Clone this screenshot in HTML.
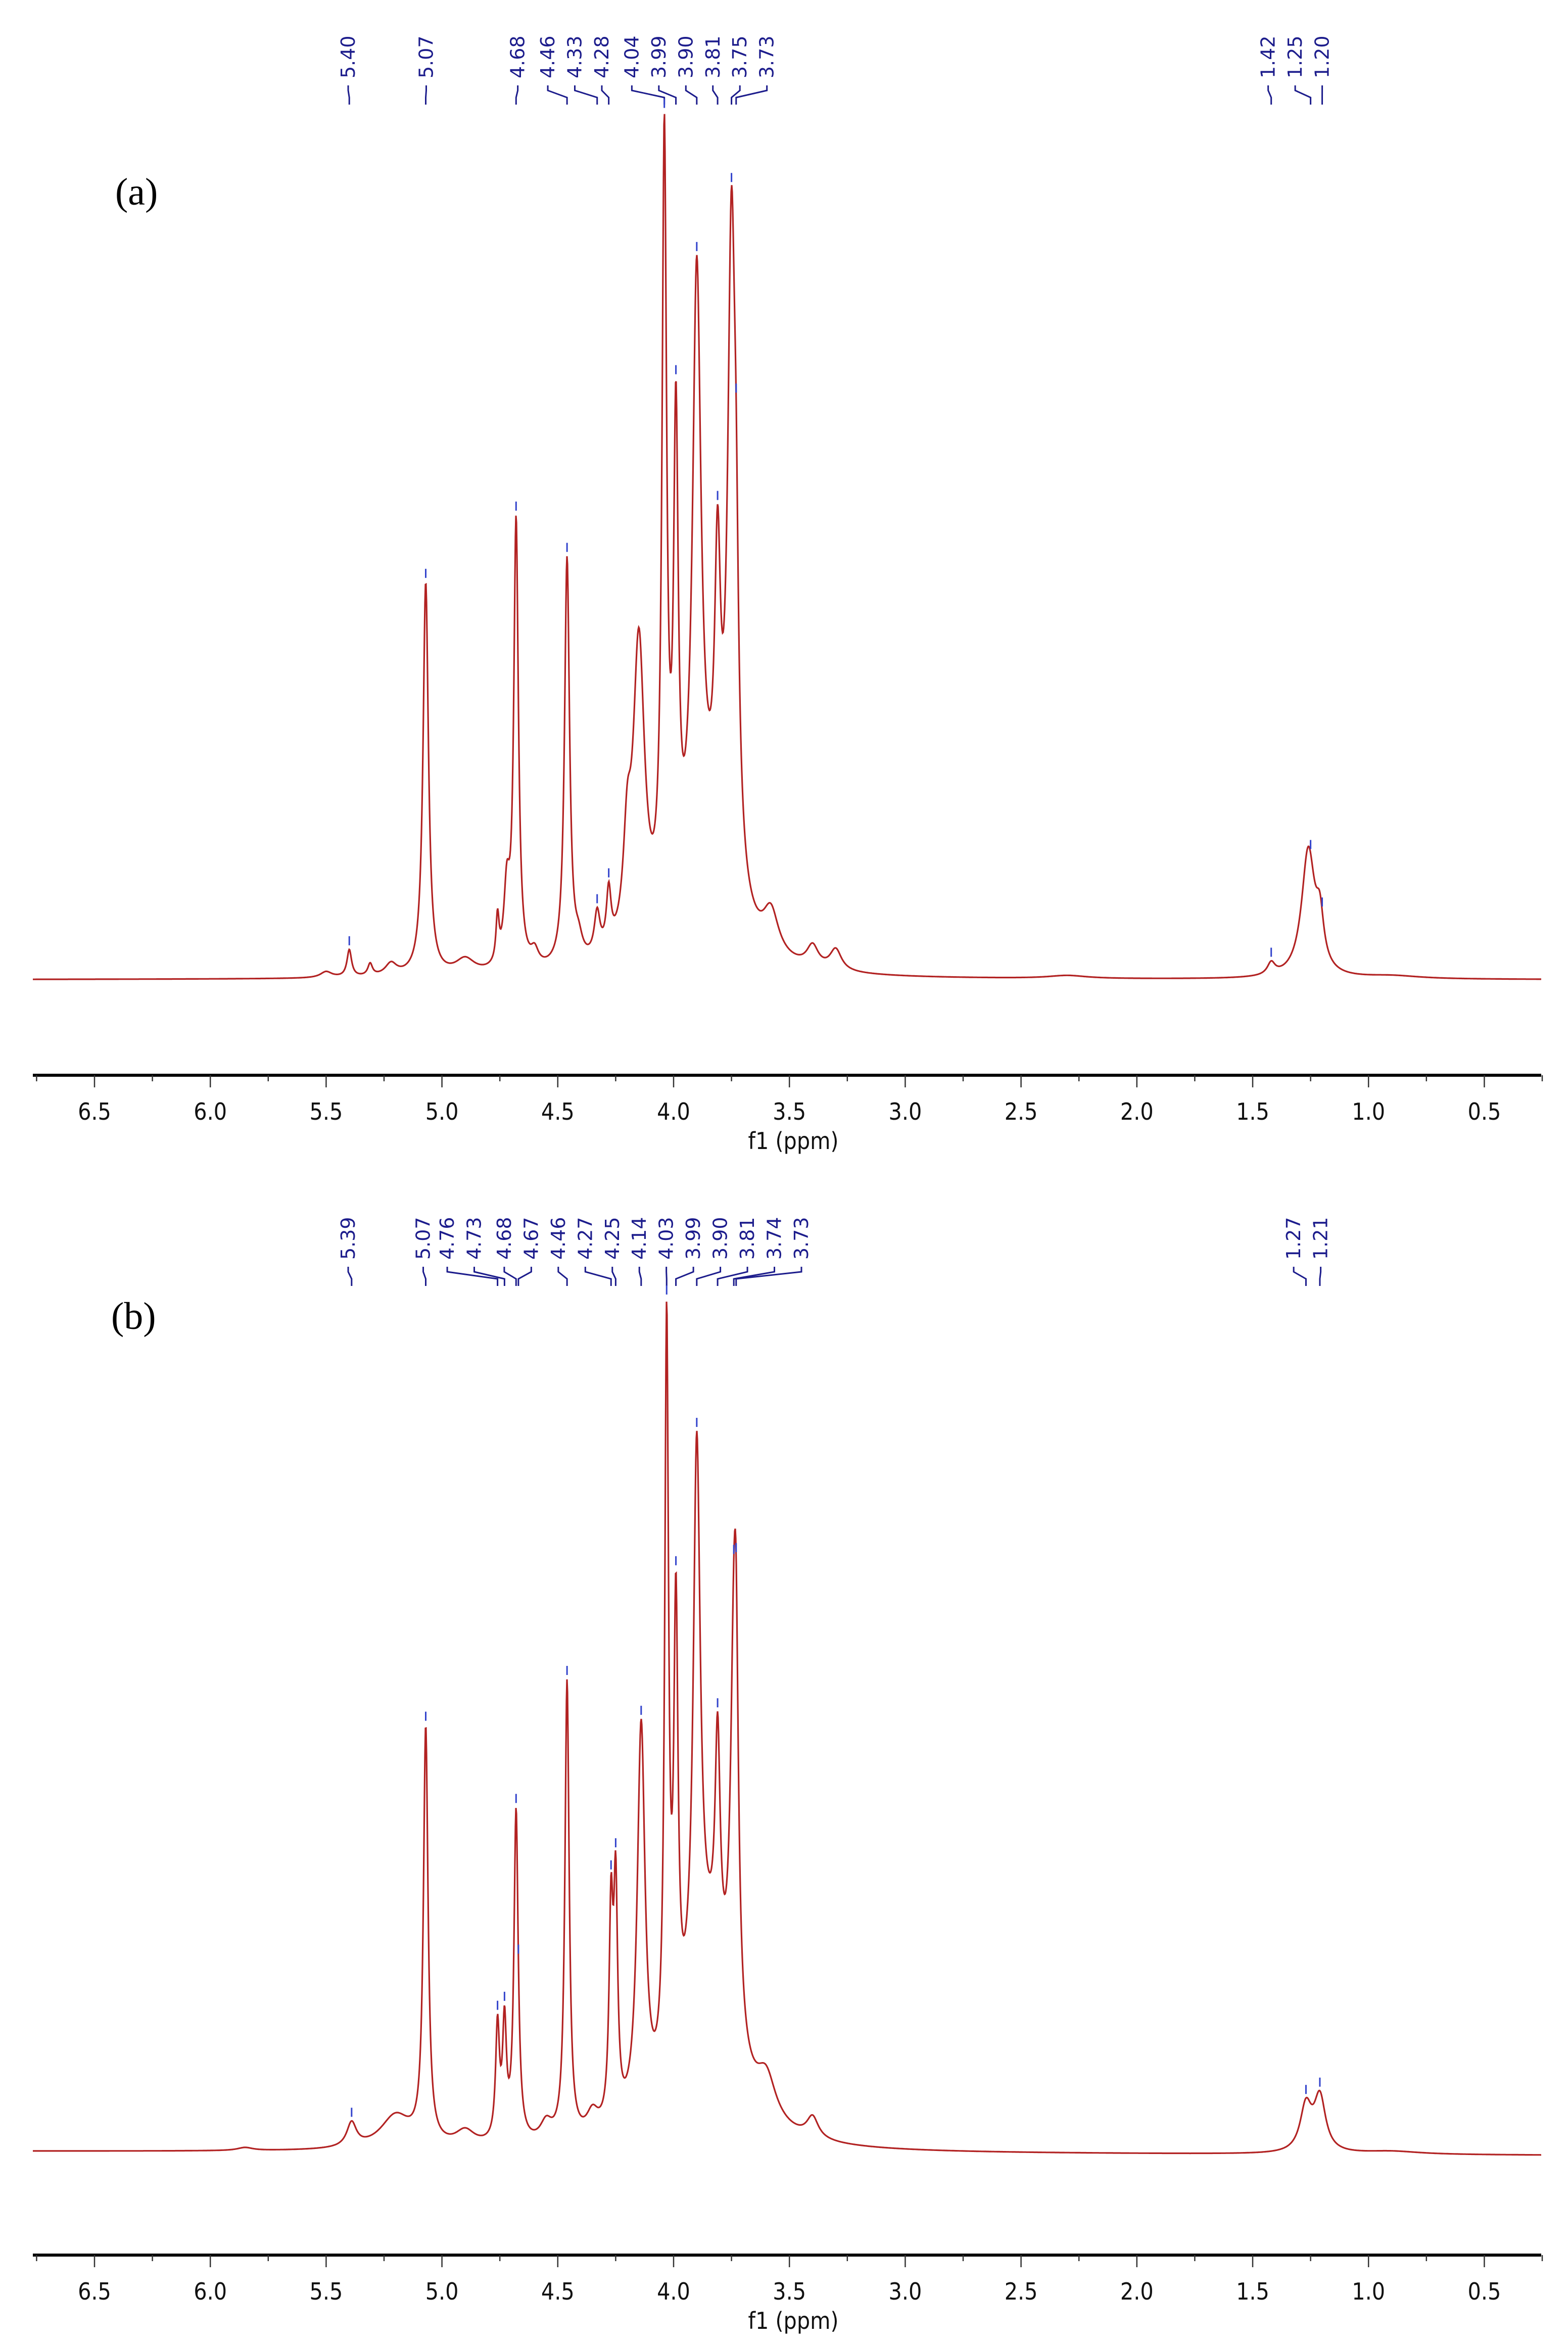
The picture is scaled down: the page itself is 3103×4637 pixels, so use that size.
<!DOCTYPE html>
<html><head><meta charset="utf-8"><style>
html,body{margin:0;padding:0;background:#fff;}
svg{display:block;}
</style></head><body>
<svg id="chart" width="3103" height="4637" viewBox="0 0 3103 4637" xmlns="http://www.w3.org/2000/svg"></svg>
<script>
// ---------- data ----------
// Panel (a): peak centres (ppm), heights (arb.), half-widths (ppm)
const peaksA_ppm = [5.50,5.40,5.31,5.22,5.07,4.90,4.76,4.72,4.68,4.60,4.46,4.41,4.33,4.28,4.20,4.15,4.04,3.99,3.90,3.85,3.81,3.75,3.73,3.58,3.40,3.30,2.30,1.42,1.26,1.21,0.90];
const peaksA_h   = [4,18,8,8,262,10,30,48,298,10,272,12,28,38,60,203,513,308,397,70,180,432,120,28,14,14,2,8,84,30,2];
const peaksA_w   = [0.03,0.012,0.012,0.03,0.014,0.05,0.008,0.015,0.012,0.02,0.013,0.02,0.015,0.012,0.02,0.03,0.012,0.012,0.022,0.12,0.015,0.02,0.012,0.04,0.03,0.03,0.1,0.02,0.035,0.02,0.15];
// Panel (b)
const peaksB_ppm = [5.85,5.39,5.20,5.07,4.90,4.76,4.73,4.68,4.55,4.46,4.35,4.27,4.25,4.14,4.03,3.99,3.90,3.85,3.81,3.74,3.73,3.60,3.40,1.27,1.21,0.90];
const peaksB_h   = [2,16,22,276,10,75,75,220,12,305,14,135,150,260,494,287,362,120,150,228,150,28,14,30,36,2];
const peaksB_w   = [0.04,0.025,0.08,0.012,0.05,0.01,0.01,0.011,0.03,0.011,0.03,0.01,0.01,0.02,0.01,0.011,0.018,0.12,0.013,0.018,0.012,0.05,0.03,0.03,0.03,0.15];
// Peak-label texts
const labelsA = ["5.40","5.07","4.68","4.46","4.33","4.28","4.04","3.99","3.90","3.81","3.75","3.73","1.42","1.25","1.20"];
const labelsB = ["5.39","5.07","4.76","4.73","4.68","4.67","4.46","4.27","4.25","4.14","4.03","3.99","3.90","3.81","3.74","3.73","1.27","1.21"];
const tickValues = [6.5,6.0,5.5,5.0,4.5,4.0,3.5,3.0,2.5,2.0,1.5,1.0,0.5];
const tickLabels = ["6.5","6.0","5.5","5.0","4.5","4.0","3.5","3.0","2.5","2.0","1.5","1.0","0.5"];

// ---------- layout ----------
const NS="http://www.w3.org/2000/svg";
const svg=document.getElementById('chart');
const S=2.97;
function xpix(p){return 187+(6.5-p)*458.4;}
function mk(tag,attrs,parent){const e=document.createElementNS(NS,tag);for(const k in attrs)e.setAttribute(k,attrs[k]);(parent||svg).appendChild(e);return e;}
function spec(p,P,H,W){let s=0;for(let i=0;i<P.length;i++){const d=(p-P[i])/W[i];s+=H[i]/(1+d*d);}return s;}

function panel(cfg){
  const g=mk('g',{});
  
  
  const yv=(v,p)=>cfg.base+ (6.76-p)*cfg.tilt - v*S;
  const ax=mk('g',{},g);
  
  
  const al=mk('line',{x1:65,x2:3050,y1:cfg.axisY,y2:cfg.axisY,stroke:'#000','stroke-width':6},ax);
  
  
  for(let t=6.75;t>0.2;t-=0.25){
    const major=Math.abs(t*2-Math.round(t*2))<1e-6;
    const tk=mk('line',{x1:xpix(t),x2:xpix(t),y1:cfg.axisY,y2:cfg.axisY+(major?24:12),stroke:'#333','stroke-width':2.5},ax);
    
    
  }
  tickValues.forEach((v,i)=>{
    const tx=mk('text',{x:xpix(v),y:cfg.axisY+88,'text-anchor':'middle','font-family':'DejaVu Sans Condensed, DejaVu Sans, sans-serif','font-size':46,fill:'#111'},ax);
    tx.textContent=tickLabels[i];
    
    
  });
  const xt=mk('text',{x:1570,y:cfg.axisY+146,'text-anchor':'middle','font-family':'DejaVu Sans Condensed, DejaVu Sans, sans-serif','font-size':46,fill:'#111'},ax);
  xt.textContent='f1 (ppm)';
  
  
  let d='';
  for(let x=65;x<=3050;x+=1){
    const p=6.5-(x-187)/458.4;
    const v=spec(p,cfg.P,cfg.H,cfg.W);
    d+=(x===65?'M':'L')+x+' '+yv(v,p).toFixed(1);
  }
  const path=mk('path',{d:d,fill:'none',stroke:'#b22222','stroke-width':3.2},g);
  
  
  cfg.labels.forEach((lab,i)=>{
    const p=parseFloat(lab);
    const lx=cfg.colX[i]*S;
    const px=xpix(p);
    const lg=mk('g',{},g);
    
    
    const t=mk('text',{x:0,y:0,transform:`translate(${lx+13},${cfg.textBottom}) rotate(-90)`,'font-family':'DejaVu Sans, sans-serif','font-size':38,fill:'#1c1c8c'},lg);
    t.textContent=lab;
    const y0=cfg.textBottom+14, y1=y0+10, y2=y0+24, y3=y0+38;
    mk('path',{d:`M${lx} ${y0} L${lx} ${y1} L${px} ${y2} L${px} ${y3}`,fill:'none',stroke:'#1c1c8c','stroke-width':3},lg);
    const v=spec(p,cfg.P,cfg.H,cfg.W);
    const ty=yv(v,p);
    mk('line',{x1:px,x2:px,y1:ty-26,y2:ty-8,stroke:'#3344cc','stroke-width':3},lg);
  });
  const pl=mk('text',{x:cfg.plx,y:cfg.ply,'font-family':'Liberation Serif, serif','font-size':76,fill:'#000'},g);
  pl.textContent=cfg.plabel;
  
  
}

panel({name:'panel-a',P:peaksA_ppm,H:peaksA_h,W:peaksA_w,base:1939,tilt:0,axisY:2128,
  labels:labelsA,colX:[232,284,345,365,383,401,421,439,457,475,493,511,845,863,881],textBottom:155,
  plabel:'(a)',plx:228,ply:405});
panel({name:'panel-b',P:peaksB_ppm,H:peaksB_h,W:peaksB_w,base:4258,tilt:1.2,axisY:4463,
  labels:labelsB,colX:[232,282,298,316,336,354,372,390,408,426,444,462,480,498,516,534,862,880],textBottom:2493,
  plabel:'(b)',plx:220,ply:2630});
</script>
</body></html>
